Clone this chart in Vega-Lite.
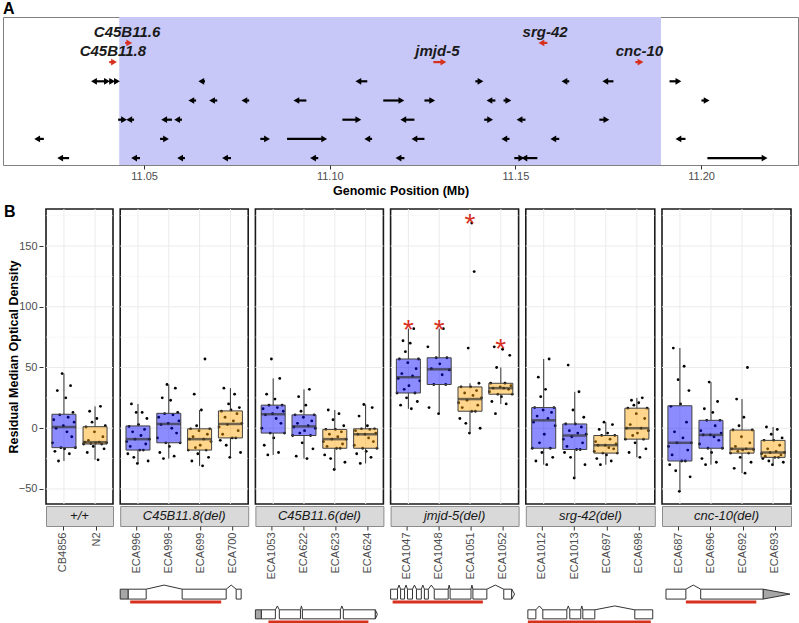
{
"$schema": "https://vega.github.io/schema/vega-lite/v6.json",
"padding": {"left": 2, "top": 0, "right": 0, "bottom": 0},
"background": "white",
"config": {"font": "Liberation Sans", "view": {"stroke": null}, "axis": {"labelFont": "Liberation Sans", "titleFont": "Liberation Sans"}, "title": {"font": "Liberation Sans"}, "text": {"font": "Liberation Sans"}},
"columns": 1,
"spacing": 6,
"resolve": {"scale": {"color": "independent", "x": "independent", "y": "independent"}},
"datasets": {
"genes": [
{"a":11.0449,"b":11.0460,"row":7,"dir":"+","hl":"y"},{"a":11.1570,"b":11.1586,"row":7,"dir":"-","hl":"y"},
{"a":11.0406,"b":11.0419,"row":6,"dir":"+","hl":"y"},{"a":11.1279,"b":11.1306,"row":6,"dir":"+","hl":"y"},{"a":11.1823,"b":11.1837,"row":6,"dir":"+","hl":"y"},
{"a":11.0365,"b":11.0384,"row":5,"dir":"-","hl":"n"},{"a":11.0384,"b":11.0400,"row":5,"dir":"+","hl":"n"},{"a":11.0406,"b":11.0414,"row":5,"dir":"+","hl":"n"},{"a":11.0419,"b":11.0427,"row":5,"dir":"+","hl":"n"},{"a":11.0654,"b":11.0664,"row":5,"dir":"-","hl":"n"},{"a":11.1077,"b":11.1101,"row":5,"dir":"-","hl":"n"},{"a":11.1392,"b":11.1406,"row":5,"dir":"+","hl":"n"},{"a":11.1632,"b":11.1645,"row":5,"dir":"-","hl":"n"},{"a":11.1742,"b":11.1764,"row":5,"dir":"-","hl":"n"},{"a":11.1915,"b":11.1939,"row":5,"dir":"+","hl":"n"},
{"a":11.0627,"b":11.0640,"row":4,"dir":"-","hl":"n"},{"a":11.0683,"b":11.0697,"row":4,"dir":"-","hl":"n"},{"a":11.0770,"b":11.0783,"row":4,"dir":"-","hl":"n"},{"a":11.0910,"b":11.0937,"row":4,"dir":"-","hl":"n"},{"a":11.1144,"b":11.1193,"row":4,"dir":"+","hl":"n"},{"a":11.1255,"b":11.1276,"row":4,"dir":"+","hl":"n"},{"a":11.1430,"b":11.1446,"row":4,"dir":"-","hl":"n"},{"a":11.1468,"b":11.1481,"row":4,"dir":"+","hl":"n"},{"a":11.2001,"b":11.2015,"row":4,"dir":"+","hl":"n"},
{"a":11.0430,"b":11.0446,"row":3,"dir":"+","hl":"n"},{"a":11.0460,"b":11.0473,"row":3,"dir":"-","hl":"n"},{"a":11.0554,"b":11.0575,"row":3,"dir":"-","hl":"n"},{"a":11.0589,"b":11.0602,"row":3,"dir":"-","hl":"n"},{"a":11.1034,"b":11.1077,"row":3,"dir":"+","hl":"n"},{"a":11.1198,"b":11.1228,"row":3,"dir":"-","hl":"n"},{"a":11.1416,"b":11.1432,"row":3,"dir":"+","hl":"n"},{"a":11.1511,"b":11.1527,"row":3,"dir":"-","hl":"n"},{"a":11.1726,"b":11.1745,"row":3,"dir":"+","hl":"n"},
{"a":11.0212,"b":11.0230,"row":2,"dir":"-","hl":"n"},{"a":11.0543,"b":11.0559,"row":2,"dir":"+","hl":"n"},{"a":11.0813,"b":11.0831,"row":2,"dir":"+","hl":"n"},{"a":11.0885,"b":11.0985,"row":2,"dir":"+","hl":"n"},{"a":11.1101,"b":11.1114,"row":2,"dir":"-","hl":"n"},{"a":11.1228,"b":11.1255,"row":2,"dir":"-","hl":"n"},{"a":11.1470,"b":11.1484,"row":2,"dir":"-","hl":"n"},{"a":11.1602,"b":11.1618,"row":2,"dir":"-","hl":"n"},{"a":11.1939,"b":11.1958,"row":2,"dir":"-","hl":"n"},
{"a":11.0274,"b":11.0298,"row":1,"dir":"-","hl":"n"},{"a":11.0473,"b":11.0489,"row":1,"dir":"-","hl":"n"},{"a":11.0597,"b":11.0610,"row":1,"dir":"-","hl":"n"},{"a":11.0718,"b":11.0734,"row":1,"dir":"-","hl":"n"},{"a":11.0955,"b":11.0969,"row":1,"dir":"-","hl":"n"},{"a":11.1185,"b":11.1201,"row":1,"dir":"-","hl":"n"},{"a":11.1497,"b":11.1516,"row":1,"dir":"+","hl":"n"},{"a":11.1524,"b":11.1559,"row":1,"dir":"-","hl":"n"},{"a":11.2017,"b":11.2171,"row":1,"dir":"+","hl":"n"}
],
"labels": [{"name":"C45B11.6","pos":11.0454,"row":7},{"name":"C45B11.8","pos":11.0416,"row":6},{"name":"jmjd-5","pos":11.1290,"row":6},{"name":"srg-42","pos":11.1580,"row":7},{"name":"cnc-10","pos":11.1834,"row":6}],
"strains": [{"s":"CB4856","bg":"CB4856"},{"s":"N2","bg":"N2"},{"s":"ECA996","bg":"CB4856"},{"s":"ECA998","bg":"CB4856"},{"s":"ECA699","bg":"N2"},{"s":"ECA700","bg":"N2"},{"s":"ECA1053","bg":"CB4856"},{"s":"ECA622","bg":"CB4856"},{"s":"ECA623","bg":"N2"},{"s":"ECA624","bg":"N2"},{"s":"ECA1047","bg":"CB4856"},{"s":"ECA1048","bg":"CB4856"},{"s":"ECA1051","bg":"N2"},{"s":"ECA1052","bg":"N2"},{"s":"ECA1012","bg":"CB4856"},{"s":"ECA1013","bg":"CB4856"},{"s":"ECA697","bg":"N2"},{"s":"ECA698","bg":"N2"},{"s":"ECA687","bg":"CB4856"},{"s":"ECA696","bg":"CB4856"},{"s":"ECA692","bg":"N2"},{"s":"ECA693","bg":"N2"}],
"minor": [{"v": -25}, {"v": 25}, {"v": 75}, {"v": 125}, {"v": 175}],
"major": [{"v": -50}, {"v": 0}, {"v": 50}, {"v": 100}, {"v": 150}],
"pts": [
{"s":"CB4856","v":-27,"r":5},{"s":"CB4856","v":-21,"r":14},{"s":"CB4856","v":-19,"r":2},{"s":"CB4856","v":-17,"r":10},{"s":"CB4856","v":-16,"r":19},{"s":"CB4856","v":-16,"r":7},{"s":"CB4856","v":-12,"r":0},{"s":"CB4856","v":-7,"r":16},{"s":"CB4856","v":-3,"r":12},{"s":"CB4856","v":0,"r":3},{"s":"CB4856","v":2,"r":9},{"s":"CB4856","v":5,"r":18},{"s":"CB4856","v":7,"r":1},{"s":"CB4856","v":9,"r":13},{"s":"CB4856","v":11,"r":6},{"s":"CB4856","v":13,"r":17},{"s":"CB4856","v":25,"r":11},{"s":"CB4856","v":31,"r":4},{"s":"CB4856","v":35,"r":15},{"s":"CB4856","v":45,"r":8},
{"s":"N2","v":-26,"r":12},{"s":"N2","v":-20,"r":3},{"s":"N2","v":-17,"r":17},{"s":"N2","v":-15,"r":8},{"s":"N2","v":-13,"r":0},{"s":"N2","v":-13,"r":15},{"s":"N2","v":-12.5,"r":6},{"s":"N2","v":-12,"r":10},{"s":"N2","v":-12,"r":19},{"s":"N2","v":-11.5,"r":1},{"s":"N2","v":-11.5,"r":13},{"s":"N2","v":-10,"r":4},{"s":"N2","v":-7,"r":16},{"s":"N2","v":-3,"r":9},{"s":"N2","v":1,"r":2},{"s":"N2","v":2,"r":18},{"s":"N2","v":5,"r":7},{"s":"N2","v":8,"r":11},{"s":"N2","v":14,"r":5},{"s":"N2","v":18,"r":14},
{"s":"ECA996","v":-29,"r":9},{"s":"ECA996","v":-27,"r":18},{"s":"ECA996","v":-24,"r":6},{"s":"ECA996","v":-21,"r":1},{"s":"ECA996","v":-18,"r":14},{"s":"ECA996","v":-18,"r":11},{"s":"ECA996","v":-15,"r":3},{"s":"ECA996","v":-13,"r":16},{"s":"ECA996","v":-11,"r":0},{"s":"ECA996","v":-9,"r":7},{"s":"ECA996","v":-9,"r":19},{"s":"ECA996","v":-6,"r":12},{"s":"ECA996","v":-3,"r":5},{"s":"ECA996","v":-1,"r":15},{"s":"ECA996","v":1.5,"r":2},{"s":"ECA996","v":3,"r":10},{"s":"ECA996","v":8,"r":17},{"s":"ECA996","v":13,"r":8},{"s":"ECA996","v":13,"r":13},{"s":"ECA996","v":20,"r":4},
{"s":"ECA998","v":-25,"r":5},{"s":"ECA998","v":-23,"r":14},{"s":"ECA998","v":-20,"r":2},{"s":"ECA998","v":-15,"r":10},{"s":"ECA998","v":-12,"r":19},{"s":"ECA998","v":-12,"r":7},{"s":"ECA998","v":-8,"r":0},{"s":"ECA998","v":-4,"r":16},{"s":"ECA998","v":0,"r":12},{"s":"ECA998","v":3,"r":3},{"s":"ECA998","v":4,"r":9},{"s":"ECA998","v":6,"r":18},{"s":"ECA998","v":9,"r":1},{"s":"ECA998","v":11,"r":13},{"s":"ECA998","v":12,"r":6},{"s":"ECA998","v":13,"r":17},{"s":"ECA998","v":23,"r":11},{"s":"ECA998","v":25,"r":4},{"s":"ECA998","v":33,"r":15},{"s":"ECA998","v":36,"r":8},
{"s":"ECA699","v":-31,"r":12},{"s":"ECA699","v":-27,"r":3},{"s":"ECA699","v":-24,"r":17},{"s":"ECA699","v":-21,"r":8},{"s":"ECA699","v":-18,"r":0},{"s":"ECA699","v":-18,"r":15},{"s":"ECA699","v":-16,"r":6},{"s":"ECA699","v":-14,"r":10},{"s":"ECA699","v":-11,"r":19},{"s":"ECA699","v":-9,"r":1},{"s":"ECA699","v":-9,"r":13},{"s":"ECA699","v":-7,"r":4},{"s":"ECA699","v":-5,"r":16},{"s":"ECA699","v":-2,"r":9},{"s":"ECA699","v":-0.5,"r":2},{"s":"ECA699","v":-0.5,"r":18},{"s":"ECA699","v":2,"r":7},{"s":"ECA699","v":15,"r":11},{"s":"ECA699","v":28,"r":5},{"s":"ECA699","v":57,"r":14},
{"s":"ECA700","v":-24,"r":9},{"s":"ECA700","v":-20,"r":18},{"s":"ECA700","v":-14,"r":6},{"s":"ECA700","v":-10,"r":1},{"s":"ECA700","v":-8,"r":14},{"s":"ECA700","v":-8,"r":11},{"s":"ECA700","v":-5,"r":3},{"s":"ECA700","v":-2,"r":16},{"s":"ECA700","v":1,"r":0},{"s":"ECA700","v":3,"r":7},{"s":"ECA700","v":4,"r":19},{"s":"ECA700","v":6,"r":12},{"s":"ECA700","v":9,"r":5},{"s":"ECA700","v":12,"r":15},{"s":"ECA700","v":14,"r":2},{"s":"ECA700","v":15,"r":10},{"s":"ECA700","v":17,"r":17},{"s":"ECA700","v":20,"r":8},{"s":"ECA700","v":28,"r":13},{"s":"ECA700","v":33,"r":4},
{"s":"ECA1053","v":-22,"r":5},{"s":"ECA1053","v":-20,"r":14},{"s":"ECA1053","v":-14,"r":2},{"s":"ECA1053","v":-8,"r":10},{"s":"ECA1053","v":-4,"r":19},{"s":"ECA1053","v":-4,"r":7},{"s":"ECA1053","v":0,"r":0},{"s":"ECA1053","v":4,"r":16},{"s":"ECA1053","v":8,"r":12},{"s":"ECA1053","v":11,"r":3},{"s":"ECA1053","v":12,"r":9},{"s":"ECA1053","v":14,"r":18},{"s":"ECA1053","v":16,"r":1},{"s":"ECA1053","v":17,"r":13},{"s":"ECA1053","v":19,"r":6},{"s":"ECA1053","v":19,"r":17},{"s":"ECA1053","v":24,"r":11},{"s":"ECA1053","v":28,"r":4},{"s":"ECA1053","v":41,"r":15},{"s":"ECA1053","v":57,"r":8},
{"s":"ECA622","v":-25,"r":12},{"s":"ECA622","v":-23,"r":3},{"s":"ECA622","v":-17,"r":17},{"s":"ECA622","v":-12,"r":8},{"s":"ECA622","v":-6,"r":0},{"s":"ECA622","v":-6,"r":15},{"s":"ECA622","v":-4,"r":6},{"s":"ECA622","v":-2,"r":10},{"s":"ECA622","v":0,"r":19},{"s":"ECA622","v":1,"r":1},{"s":"ECA622","v":2,"r":13},{"s":"ECA622","v":4,"r":4},{"s":"ECA622","v":6,"r":16},{"s":"ECA622","v":9,"r":9},{"s":"ECA622","v":11,"r":2},{"s":"ECA622","v":11,"r":18},{"s":"ECA622","v":14,"r":7},{"s":"ECA622","v":19,"r":11},{"s":"ECA622","v":26,"r":5},{"s":"ECA622","v":32,"r":14},
{"s":"ECA623","v":-34,"r":9},{"s":"ECA623","v":-28,"r":18},{"s":"ECA623","v":-25,"r":6},{"s":"ECA623","v":-22,"r":1},{"s":"ECA623","v":-16.5,"r":14},{"s":"ECA623","v":-16.5,"r":11},{"s":"ECA623","v":-15,"r":3},{"s":"ECA623","v":-13,"r":16},{"s":"ECA623","v":-11,"r":0},{"s":"ECA623","v":-9,"r":7},{"s":"ECA623","v":-9,"r":19},{"s":"ECA623","v":-7,"r":12},{"s":"ECA623","v":-5,"r":5},{"s":"ECA623","v":-3,"r":15},{"s":"ECA623","v":-1,"r":2},{"s":"ECA623","v":-1,"r":10},{"s":"ECA623","v":2,"r":17},{"s":"ECA623","v":7,"r":8},{"s":"ECA623","v":12,"r":13},{"s":"ECA623","v":15,"r":4},
{"s":"ECA624","v":-29,"r":5},{"s":"ECA624","v":-24,"r":14},{"s":"ECA624","v":-21,"r":2},{"s":"ECA624","v":-19,"r":10},{"s":"ECA624","v":-16.5,"r":19},{"s":"ECA624","v":-16.5,"r":7},{"s":"ECA624","v":-14,"r":0},{"s":"ECA624","v":-11,"r":16},{"s":"ECA624","v":-8,"r":12},{"s":"ECA624","v":-5,"r":3},{"s":"ECA624","v":-5,"r":9},{"s":"ECA624","v":-4,"r":18},{"s":"ECA624","v":-2,"r":1},{"s":"ECA624","v":-1,"r":13},{"s":"ECA624","v":-0.5,"r":6},{"s":"ECA624","v":-0.5,"r":17},{"s":"ECA624","v":2,"r":11},{"s":"ECA624","v":10,"r":4},{"s":"ECA624","v":17,"r":15},{"s":"ECA624","v":19.5,"r":8},
{"s":"ECA1047","v":16,"r":12},{"s":"ECA1047","v":19,"r":3},{"s":"ECA1047","v":22,"r":17},{"s":"ECA1047","v":25,"r":8},{"s":"ECA1047","v":29,"r":0},{"s":"ECA1047","v":29,"r":15},{"s":"ECA1047","v":32,"r":6},{"s":"ECA1047","v":35,"r":10},{"s":"ECA1047","v":39,"r":19},{"s":"ECA1047","v":41,"r":1},{"s":"ECA1047","v":43,"r":13},{"s":"ECA1047","v":45,"r":4},{"s":"ECA1047","v":49,"r":16},{"s":"ECA1047","v":54,"r":9},{"s":"ECA1047","v":57,"r":2},{"s":"ECA1047","v":57,"r":18},{"s":"ECA1047","v":63,"r":7},{"s":"ECA1047","v":70,"r":11},{"s":"ECA1047","v":72,"r":5},{"s":"ECA1047","v":82,"r":14},
{"s":"ECA1048","v":12,"r":9},{"s":"ECA1048","v":17,"r":1},{"s":"ECA1048","v":36,"r":15},{"s":"ECA1048","v":36,"r":5},{"s":"ECA1048","v":44,"r":12},{"s":"ECA1048","v":48,"r":18},{"s":"ECA1048","v":49,"r":3},{"s":"ECA1048","v":53,"r":10},{"s":"ECA1048","v":58,"r":16},{"s":"ECA1048","v":58,"r":7},{"s":"ECA1048","v":67,"r":0},{"s":"ECA1048","v":82,"r":13},
{"s":"ECA1051","v":-4,"r":9},{"s":"ECA1051","v":0,"r":18},{"s":"ECA1051","v":4,"r":6},{"s":"ECA1051","v":8,"r":1},{"s":"ECA1051","v":14,"r":14},{"s":"ECA1051","v":14,"r":11},{"s":"ECA1051","v":17,"r":3},{"s":"ECA1051","v":19,"r":16},{"s":"ECA1051","v":21,"r":0},{"s":"ECA1051","v":23,"r":7},{"s":"ECA1051","v":25,"r":19},{"s":"ECA1051","v":27,"r":12},{"s":"ECA1051","v":29,"r":5},{"s":"ECA1051","v":31,"r":15},{"s":"ECA1051","v":34,"r":2},{"s":"ECA1051","v":34,"r":10},{"s":"ECA1051","v":37,"r":17},{"s":"ECA1051","v":66,"r":8},{"s":"ECA1051","v":129,"r":13},{"s":"ECA1051","v":169,"r":11},
{"s":"ECA1052","v":12,"r":5},{"s":"ECA1052","v":20,"r":14},{"s":"ECA1052","v":22,"r":2},{"s":"ECA1052","v":26,"r":10},{"s":"ECA1052","v":28,"r":19},{"s":"ECA1052","v":28,"r":7},{"s":"ECA1052","v":30,"r":0},{"s":"ECA1052","v":32,"r":16},{"s":"ECA1052","v":33,"r":12},{"s":"ECA1052","v":33,"r":3},{"s":"ECA1052","v":34,"r":9},{"s":"ECA1052","v":35,"r":18},{"s":"ECA1052","v":37,"r":1},{"s":"ECA1052","v":37,"r":13},{"s":"ECA1052","v":50,"r":6},{"s":"ECA1052","v":60,"r":17},{"s":"ECA1052","v":65,"r":11},{"s":"ECA1052","v":67,"r":4},
{"s":"ECA1012","v":-30,"r":12},{"s":"ECA1012","v":-27,"r":3},{"s":"ECA1012","v":-24,"r":17},{"s":"ECA1012","v":-20,"r":8},{"s":"ECA1012","v":-16.5,"r":0},{"s":"ECA1012","v":-16.5,"r":15},{"s":"ECA1012","v":-12,"r":6},{"s":"ECA1012","v":-5,"r":10},{"s":"ECA1012","v":2,"r":19},{"s":"ECA1012","v":5,"r":1},{"s":"ECA1012","v":8,"r":13},{"s":"ECA1012","v":10,"r":4},{"s":"ECA1012","v":13,"r":16},{"s":"ECA1012","v":15,"r":9},{"s":"ECA1012","v":17,"r":2},{"s":"ECA1012","v":17,"r":18},{"s":"ECA1012","v":26,"r":7},{"s":"ECA1012","v":32,"r":11},{"s":"ECA1012","v":42,"r":5},{"s":"ECA1012","v":57,"r":14},
{"s":"ECA1013","v":-41,"r":9},{"s":"ECA1013","v":-30,"r":18},{"s":"ECA1013","v":-24,"r":6},{"s":"ECA1013","v":-20,"r":1},{"s":"ECA1013","v":-17.5,"r":14},{"s":"ECA1013","v":-17.5,"r":11},{"s":"ECA1013","v":-15,"r":3},{"s":"ECA1013","v":-12,"r":16},{"s":"ECA1013","v":-9,"r":0},{"s":"ECA1013","v":-7,"r":7},{"s":"ECA1013","v":-5,"r":19},{"s":"ECA1013","v":-4,"r":12},{"s":"ECA1013","v":-2,"r":5},{"s":"ECA1013","v":1,"r":15},{"s":"ECA1013","v":3.5,"r":2},{"s":"ECA1013","v":3.5,"r":10},{"s":"ECA1013","v":9,"r":17},{"s":"ECA1013","v":15,"r":8},{"s":"ECA1013","v":30,"r":13},{"s":"ECA1013","v":52,"r":4},
{"s":"ECA697","v":-30,"r":5},{"s":"ECA697","v":-27,"r":14},{"s":"ECA697","v":-25,"r":2},{"s":"ECA697","v":-22,"r":10},{"s":"ECA697","v":-20.5,"r":19},{"s":"ECA697","v":-20.5,"r":7},{"s":"ECA697","v":-19,"r":0},{"s":"ECA697","v":-17,"r":16},{"s":"ECA697","v":-16,"r":12},{"s":"ECA697","v":-14,"r":3},{"s":"ECA697","v":-14,"r":9},{"s":"ECA697","v":-13,"r":18},{"s":"ECA697","v":-11,"r":1},{"s":"ECA697","v":-9,"r":13},{"s":"ECA697","v":-6,"r":6},{"s":"ECA697","v":-6,"r":17},{"s":"ECA697","v":-4,"r":11},{"s":"ECA697","v":-1,"r":4},{"s":"ECA697","v":3,"r":15},{"s":"ECA697","v":5,"r":8},
{"s":"ECA698","v":-24,"r":12},{"s":"ECA698","v":-20,"r":3},{"s":"ECA698","v":-17,"r":17},{"s":"ECA698","v":-12,"r":8},{"s":"ECA698","v":-9,"r":0},{"s":"ECA698","v":-9,"r":15},{"s":"ECA698","v":-6,"r":6},{"s":"ECA698","v":-4,"r":10},{"s":"ECA698","v":-2,"r":19},{"s":"ECA698","v":0,"r":1},{"s":"ECA698","v":0,"r":13},{"s":"ECA698","v":3,"r":4},{"s":"ECA698","v":8,"r":16},{"s":"ECA698","v":12,"r":9},{"s":"ECA698","v":16.5,"r":2},{"s":"ECA698","v":16.5,"r":18},{"s":"ECA698","v":19,"r":7},{"s":"ECA698","v":21,"r":11},{"s":"ECA698","v":23,"r":5},{"s":"ECA698","v":25,"r":14},
{"s":"ECA687","v":-52,"r":9},{"s":"ECA687","v":-40,"r":18},{"s":"ECA687","v":-35,"r":6},{"s":"ECA687","v":-30,"r":1},{"s":"ECA687","v":-27,"r":14},{"s":"ECA687","v":-27,"r":11},{"s":"ECA687","v":-22,"r":3},{"s":"ECA687","v":-18,"r":16},{"s":"ECA687","v":-15,"r":0},{"s":"ECA687","v":-12,"r":7},{"s":"ECA687","v":-12,"r":19},{"s":"ECA687","v":-8,"r":12},{"s":"ECA687","v":-3,"r":5},{"s":"ECA687","v":5,"r":15},{"s":"ECA687","v":18,"r":2},{"s":"ECA687","v":20,"r":10},{"s":"ECA687","v":31,"r":17},{"s":"ECA687","v":40,"r":8},{"s":"ECA687","v":51,"r":13},{"s":"ECA687","v":66,"r":4},
{"s":"ECA696","v":-30,"r":5},{"s":"ECA696","v":-28,"r":14},{"s":"ECA696","v":-25,"r":2},{"s":"ECA696","v":-20,"r":10},{"s":"ECA696","v":-16.5,"r":19},{"s":"ECA696","v":-16.5,"r":7},{"s":"ECA696","v":-13,"r":0},{"s":"ECA696","v":-10,"r":16},{"s":"ECA696","v":-7,"r":12},{"s":"ECA696","v":-5.5,"r":3},{"s":"ECA696","v":-5.5,"r":9},{"s":"ECA696","v":-4,"r":18},{"s":"ECA696","v":-2,"r":1},{"s":"ECA696","v":2,"r":13},{"s":"ECA696","v":6.5,"r":6},{"s":"ECA696","v":6.5,"r":17},{"s":"ECA696","v":13,"r":11},{"s":"ECA696","v":16,"r":4},{"s":"ECA696","v":22,"r":15},{"s":"ECA696","v":38,"r":8},
{"s":"ECA692","v":-37,"r":12},{"s":"ECA692","v":-33,"r":3},{"s":"ECA692","v":-28,"r":17},{"s":"ECA692","v":-24,"r":8},{"s":"ECA692","v":-20.5,"r":0},{"s":"ECA692","v":-20.5,"r":15},{"s":"ECA692","v":-19,"r":6},{"s":"ECA692","v":-18,"r":10},{"s":"ECA692","v":-17.5,"r":19},{"s":"ECA692","v":-17,"r":1},{"s":"ECA692","v":-17,"r":13},{"s":"ECA692","v":-15,"r":4},{"s":"ECA692","v":-12,"r":16},{"s":"ECA692","v":-7,"r":9},{"s":"ECA692","v":-1.5,"r":2},{"s":"ECA692","v":-1.5,"r":18},{"s":"ECA692","v":2,"r":7},{"s":"ECA692","v":9,"r":11},{"s":"ECA692","v":24,"r":5},{"s":"ECA692","v":50,"r":14},
{"s":"ECA693","v":-30,"r":9},{"s":"ECA693","v":-28,"r":18},{"s":"ECA693","v":-27,"r":6},{"s":"ECA693","v":-25,"r":1},{"s":"ECA693","v":-24,"r":14},{"s":"ECA693","v":-24,"r":11},{"s":"ECA693","v":-23,"r":3},{"s":"ECA693","v":-22,"r":16},{"s":"ECA693","v":-21,"r":0},{"s":"ECA693","v":-20,"r":7},{"s":"ECA693","v":-20,"r":19},{"s":"ECA693","v":-19,"r":12},{"s":"ECA693","v":-17,"r":5},{"s":"ECA693","v":-14,"r":15},{"s":"ECA693","v":-10,"r":2},{"s":"ECA693","v":-10,"r":10},{"s":"ECA693","v":-8,"r":17},{"s":"ECA693","v":-5,"r":8},{"s":"ECA693","v":-1,"r":13},{"s":"ECA693","v":1,"r":4}
],
"gex": [
{"g":"C45B11.8","k":"utr","a":0,"b":6.3,"lo":5.8,"hi":8.1},{"g":"C45B11.8","k":"exon","a":6.3,"b":20.3,"lo":5.8,"hi":8.1},{"g":"C45B11.8","k":"exon","a":48.4,"b":82.8,"lo":5.8,"hi":8.1},{"g":"C45B11.8","k":"exon","a":90.6,"b":94.5,"lo":5.8,"hi":8.1},
{"g":"C45B11.6","k":"utr","a":0,"b":4.7,"lo":1.2,"hi":3.3},{"g":"C45B11.6","k":"exon","a":4.7,"b":15.6,"lo":1.2,"hi":3.3},{"g":"C45B11.6","k":"exon","a":18.7,"b":35.2,"lo":1.2,"hi":3.3},{"g":"C45B11.6","k":"exon","a":36.7,"b":66.4,"lo":1.2,"hi":3.3},{"g":"C45B11.6","k":"exon","a":68.7,"b":93.7,"lo":1.2,"hi":3.3},
{"g":"jmjd-5","k":"exon","a":0,"b":5.4,"lo":5.8,"hi":8.1},{"g":"jmjd-5","k":"exon","a":7.8,"b":10.9,"lo":5.8,"hi":8.1},{"g":"jmjd-5","k":"exon","a":13.2,"b":17.1,"lo":5.8,"hi":8.1},{"g":"jmjd-5","k":"exon","a":20.2,"b":24.0,"lo":5.8,"hi":8.1},{"g":"jmjd-5","k":"exon","a":26.4,"b":29.5,"lo":5.8,"hi":8.1},{"g":"jmjd-5","k":"exon","a":34.1,"b":45.0,"lo":5.8,"hi":8.1},{"g":"jmjd-5","k":"exon","a":46.5,"b":62.8,"lo":5.8,"hi":8.1},{"g":"jmjd-5","k":"exon","a":64.3,"b":75.2,"lo":5.8,"hi":8.1},{"g":"jmjd-5","k":"exon","a":88.4,"b":94.6,"lo":5.8,"hi":8.1},
{"g":"srg-42","k":"exon","a":1.6,"b":7.8,"lo":1.2,"hi":3.3},{"g":"srg-42","k":"exon","a":13.2,"b":31.8,"lo":1.2,"hi":3.3},{"g":"srg-42","k":"exon","a":34.1,"b":42.6,"lo":1.2,"hi":3.3},{"g":"srg-42","k":"exon","a":44.2,"b":53.5,"lo":1.2,"hi":3.3},{"g":"srg-42","k":"exon","a":84.5,"b":98.4,"lo":1.2,"hi":3.3},
{"g":"cnc-10","k":"exon","a":3.1,"b":18.5,"lo":5.8,"hi":8.1},{"g":"cnc-10","k":"exon","a":30.0,"b":78.5,"lo":5.8,"hi":8.1}
],
"gint": [
{"g":"C45B11.8","i":1,"x":20.3,"y":8.1},{"g":"C45B11.8","i":1,"x":34.35,"y":9.05},{"g":"C45B11.8","i":1,"x":48.4,"y":8.1},
{"g":"C45B11.8","i":2,"x":82.8,"y":8.1},{"g":"C45B11.8","i":2,"x":86.7,"y":9.05},{"g":"C45B11.8","i":2,"x":90.6,"y":8.1},
{"g":"C45B11.6","i":1,"x":15.6,"y":3.3},{"g":"C45B11.6","i":1,"x":17.15,"y":4.2},{"g":"C45B11.6","i":1,"x":18.7,"y":3.3},
{"g":"C45B11.6","i":2,"x":35.2,"y":3.3},{"g":"C45B11.6","i":2,"x":35.95,"y":4.2},{"g":"C45B11.6","i":2,"x":36.7,"y":3.3},
{"g":"C45B11.6","i":3,"x":66.4,"y":3.3},{"g":"C45B11.6","i":3,"x":67.55,"y":4.2},{"g":"C45B11.6","i":3,"x":68.7,"y":3.3},
{"g":"jmjd-5","i":1,"x":5.4,"y":8.1},{"g":"jmjd-5","i":1,"x":6.6,"y":9.05},{"g":"jmjd-5","i":1,"x":7.8,"y":8.1},
{"g":"jmjd-5","i":2,"x":10.9,"y":8.1},{"g":"jmjd-5","i":2,"x":12.05,"y":9.05},{"g":"jmjd-5","i":2,"x":13.2,"y":8.1},
{"g":"jmjd-5","i":3,"x":17.1,"y":8.1},{"g":"jmjd-5","i":3,"x":18.65,"y":9.05},{"g":"jmjd-5","i":3,"x":20.2,"y":8.1},
{"g":"jmjd-5","i":4,"x":24.0,"y":8.1},{"g":"jmjd-5","i":4,"x":25.2,"y":9.05},{"g":"jmjd-5","i":4,"x":26.4,"y":8.1},
{"g":"jmjd-5","i":5,"x":29.5,"y":8.1},{"g":"jmjd-5","i":5,"x":31.8,"y":9.05},{"g":"jmjd-5","i":5,"x":34.1,"y":8.1},
{"g":"jmjd-5","i":6,"x":45.0,"y":8.1},{"g":"jmjd-5","i":6,"x":45.75,"y":9.05},{"g":"jmjd-5","i":6,"x":46.5,"y":8.1},
{"g":"jmjd-5","i":7,"x":62.8,"y":8.1},{"g":"jmjd-5","i":7,"x":63.55,"y":9.05},{"g":"jmjd-5","i":7,"x":64.3,"y":8.1},
{"g":"jmjd-5","i":8,"x":75.2,"y":8.1},{"g":"jmjd-5","i":8,"x":81.8,"y":9.05},{"g":"jmjd-5","i":8,"x":88.4,"y":8.1},
{"g":"srg-42","i":1,"x":7.8,"y":3.3},{"g":"srg-42","i":1,"x":10.5,"y":4.2},{"g":"srg-42","i":1,"x":13.2,"y":3.3},
{"g":"srg-42","i":2,"x":31.8,"y":3.3},{"g":"srg-42","i":2,"x":32.95,"y":4.2},{"g":"srg-42","i":2,"x":34.1,"y":3.3},
{"g":"srg-42","i":3,"x":42.6,"y":3.3},{"g":"srg-42","i":3,"x":43.4,"y":4.2},{"g":"srg-42","i":3,"x":44.2,"y":3.3},
{"g":"srg-42","i":4,"x":53.5,"y":3.3},{"g":"srg-42","i":4,"x":69.0,"y":4.2},{"g":"srg-42","i":4,"x":84.5,"y":3.3},
{"g":"cnc-10","i":1,"x":18.5,"y":8.1},{"g":"cnc-10","i":1,"x":24.25,"y":9.05},{"g":"cnc-10","i":1,"x":30.0,"y":8.1}
],
"gdel": [{"g":"C45B11.8","a":7.8,"b":78.9,"y":5.1},{"g":"C45B11.6","a":10.2,"b":88.3,"y":0.47},{"g":"jmjd-5","a":1.6,"b":72.1,"y":5.1},{"g":"srg-42","a":1.6,"b":96.9,"y":0.47},{"g":"cnc-10","a":18.5,"b":73.1,"y":5.1}],
"gtip": [
{"g":"C45B11.6","t":"c6","k":"exon","x":93.7,"lo":1.2,"hi":3.3},{"g":"C45B11.6","t":"c6","k":"exon","x":95.3,"lo":2.25,"hi":2.25},
{"g":"jmjd-5","t":"j5","k":"exon","x":94.6,"lo":5.8,"hi":8.1},{"g":"jmjd-5","t":"j5","k":"exon","x":96.9,"lo":6.95,"hi":6.95},
{"g":"cnc-10","t":"c10","k":"utr","x":78.5,"lo":5.8,"hi":8.1},{"g":"cnc-10","t":"c10","k":"utr","x":99.2,"lo":6.95,"hi":6.95}
]
},
"concat": [
{
"title": {"text": "A", "anchor": "start", "frame": "bounds", "fontSize": 16, "fontWeight": "bold", "offset": 0, "color": "black"},
"width": 795, "height": 148,
"view": {"stroke": "#808080", "strokeWidth": 1},
"layer": [
{"data": {"values": [{"a": 11.0433, "b": 11.1892}]}, "mark": {"type": "rect", "color": "#c8c8f8"},
 "encoding": {"x": {"field": "a", "type": "quantitative", "scale": {"domain": [11.012, 11.2261], "nice": false, "zero": false},
   "axis": {"values": [11.05, 11.1, 11.15, 11.2], "format": ".2f", "title": "Genomic Position (Mb)", "grid": false, "domain": false, "tickColor": "#333333", "tickSize": 4, "labelColor": "#4d4d4d", "labelFontSize": 11, "labelPadding": 1, "titleFontSize": 12.5, "titleFontWeight": "bold", "titleColor": "black", "titlePadding": 3}},
  "x2": {"field": "b"}}},
{"data": {"name": "genes"}, "mark": {"type": "rule", "strokeWidth": 2.2},
 "encoding": {"x": {"field": "a", "type": "quantitative"}, "x2": {"field": "b"},
  "y": {"field": "row", "type": "quantitative", "scale": {"domain": [0.64, 8.35], "nice": false, "zero": false}, "axis": null},
  "color": {"field": "hl", "type": "nominal", "scale": {"domain": ["n", "y"], "range": ["black", "#d7301f"]}, "legend": null}}},
{"data": {"name": "genes"}, "transform": [{"filter": {"field": "dir", "equal": "+"}}], "mark": {"type": "point", "shape": "triangle-right", "filled": true, "size": 45, "opacity": 1},
 "encoding": {"x": {"field": "b", "type": "quantitative"}, "y": {"field": "row", "type": "quantitative"}, "color": {"field": "hl", "type": "nominal", "legend": null}}},
{"data": {"name": "genes"}, "transform": [{"filter": {"field": "dir", "equal": "-"}}], "mark": {"type": "point", "shape": "triangle-left", "filled": true, "size": 45, "opacity": 1},
 "encoding": {"x": {"field": "a", "type": "quantitative"}, "y": {"field": "row", "type": "quantitative"}, "color": {"field": "hl", "type": "nominal", "legend": null}}},
{"data": {"name": "labels"}, "mark": {"type": "text", "fontSize": 15, "fontStyle": "italic", "fontWeight": "bold", "dy": -11, "color": "#1a1a1a"},
 "encoding": {"x": {"field": "pos", "type": "quantitative"}, "y": {"field": "row", "type": "quantitative"}, "text": {"field": "name"}}}
]
},
{
"title": {"text": "B", "anchor": "start", "frame": "group", "fontSize": 16, "fontWeight": "bold", "dx": 1, "dy": 12, "offset": 0, "color": "black"},
"spacing": 3.2,
"resolve": {"scale": {"x": "independent", "y": "independent", "xOffset": "independent"}},
"hconcat": [
{"spacing": 0, "resolve": {"scale": {"y": "independent", "x": "independent"}}, "hconcat": [
 {"width": 40, "height": 295, "view": {"fill": "white", "stroke": null}, "data": {"values": [{"v": 0}]}, "mark": {"type": "point", "opacity": 0},
  "encoding": {"y": {"field": "v", "type": "quantitative", "scale": {"domain": [-62.4, 180.5], "nice": false, "zero": false},
    "axis": {"orient": "left", "offset": -40, "values": [-50, 0, 50, 100, 150], "title": "Residual Median Optical Density", "titleFontSize": 12.5, "titleFontWeight": "bold", "titleColor": "black", "titleX": -23, "titleY": 147.5, "titleAngle": -90, "titleBaseline": "bottom", "titleAlign": "center", "labelFontSize": 11, "labelColor": "#4d4d4d", "labelPadding": 2, "tickColor": "#333333", "tickSize": 4, "domain": false, "grid": false, "minExtent": 0}}}},
 {"spacing": 2, "bounds": "flush", "vconcat": [
 {"width": 67, "height": 295, "view": {"stroke": "#1a1a1a", "strokeWidth": 1.6},
  "layer": [
   {"data": {"name": "minor"}, "mark": {"type": "rule", "color": "#f2f2f2", "strokeWidth": 0.6}, "encoding": {"y": {"field": "v", "type": "quantitative", "scale": {"domain": [-62.4, 180.5], "nice": false, "zero": false}, "axis": null}}},
   {"data": {"name": "major"}, "mark": {"type": "rule", "color": "#ebebeb", "strokeWidth": 1}, "encoding": {"y": {"field": "v", "type": "quantitative", "axis": null}}},
   {"data": {"values": [{"s": "CB4856"}, {"s": "N2"}]}, "mark": {"type": "rule", "color": "#ebebeb", "strokeWidth": 1}, "encoding": {"x": {"field": "s", "type": "nominal", "scale": {"domain": ["CB4856", "N2"], "paddingInner": 0.226, "paddingOuter": 0.19}, "axis": null}}},
   {"data": {"name": "pts"}, "transform": [{"filter": {"field": "s", "oneOf": ["CB4856", "N2"]}}], "mark": {"type": "point", "filled": true, "size": 8, "color": "black", "opacity": 1},
    "encoding": {"x": {"field": "s", "type": "nominal", "axis": null}, "y": {"field": "v", "type": "quantitative", "axis": null},
     "xOffset": {"field": "r", "type": "ordinal", "scale": {"domain": [0,1,2,3,4,5,6,7,8,9,10,11,12,13,14,15,16,17,18,19]}}}},
   {"data": {"name": "pts"}, "transform": [{"filter": {"field": "s", "oneOf": ["CB4856", "N2"]}}, {"lookup": "s", "from": {"data": {"name": "strains"}, "key": "s", "fields": ["bg"]}}],
    "mark": {"type": "boxplot", "extent": 1.5, "outliers": false, "size": 24, "box": {"fillOpacity": 0.45, "stroke": "#404040", "strokeWidth": 1}, "median": {"color": "#333333", "thickness": 2.5}, "rule": {"color": "#333333", "strokeWidth": 1}},
    "encoding": {"x": {"field": "s", "type": "nominal", "axis": null}, "y": {"field": "v", "type": "quantitative", "axis": null},
     "color": {"field": "bg", "type": "nominal", "scale": {"domain": ["CB4856", "N2"], "range": ["#0000ff", "#ffa500"]}, "legend": null}}}
  ]},
 {"width": 67, "height": 20, "view": {"fill": "#d9d9d9", "stroke": "#8c8c8c", "strokeWidth": 1},
  "layer": [
   {"data": {"values": [{"s": "CB4856"}, {"s": "N2"}]}, "mark": {"type": "point", "opacity": 0},
    "encoding": {"x": {"field": "s", "type": "nominal", "scale": {"domain": ["CB4856", "N2"], "paddingInner": 0.226, "paddingOuter": 0.19}, "axis": {"orient": "bottom", "title": null, "labelAngle": -90, "labelFontSize": 11, "labelColor": "#4d4d4d", "tickColor": "#333333", "tickSize": 4, "domain": false, "grid": false, "labelPadding": 2, "bandPosition": 0.5}}}},
   {"data": {"values": [{"t": "+/+"}]}, "mark": {"type": "text", "fontSize": 13, "fontStyle": "italic", "color": "#1a1a1a"}, "encoding": {"text": {"field": "t"}}}
  ]}
 ]}
]},
{"spacing": 2, "bounds": "flush", "vconcat": [
 {"width": 128, "height": 295, "view": {"stroke": "#1a1a1a", "strokeWidth": 1.6},
  "layer": [
   {"data": {"name": "minor"}, "mark": {"type": "rule", "color": "#f2f2f2", "strokeWidth": 0.6}, "encoding": {"y": {"field": "v", "type": "quantitative", "scale": {"domain": [-62.4, 180.5], "nice": false, "zero": false}, "axis": null}}},
   {"data": {"name": "major"}, "mark": {"type": "rule", "color": "#ebebeb", "strokeWidth": 1}, "encoding": {"y": {"field": "v", "type": "quantitative", "axis": null}}},
   {"data": {"values": [{"s": "ECA996"}, {"s": "ECA998"}, {"s": "ECA699"}, {"s": "ECA700"}]}, "mark": {"type": "rule", "color": "#ebebeb", "strokeWidth": 1}, "encoding": {"x": {"field": "s", "type": "nominal", "scale": {"domain": ["ECA996", "ECA998", "ECA699", "ECA700"], "paddingInner": 0.226, "paddingOuter": 0.19}, "axis": null}}},
   {"data": {"name": "pts"}, "transform": [{"filter": {"field": "s", "oneOf": ["ECA996", "ECA998", "ECA699", "ECA700"]}}], "mark": {"type": "point", "filled": true, "size": 8, "color": "black", "opacity": 1},
    "encoding": {"x": {"field": "s", "type": "nominal", "axis": null}, "y": {"field": "v", "type": "quantitative", "axis": null},
     "xOffset": {"field": "r", "type": "ordinal", "scale": {"domain": [0,1,2,3,4,5,6,7,8,9,10,11,12,13,14,15,16,17,18,19]}}}},
   {"data": {"name": "pts"}, "transform": [{"filter": {"field": "s", "oneOf": ["ECA996", "ECA998", "ECA699", "ECA700"]}}, {"lookup": "s", "from": {"data": {"name": "strains"}, "key": "s", "fields": ["bg"]}}],
    "mark": {"type": "boxplot", "extent": 1.5, "outliers": false, "size": 24, "box": {"fillOpacity": 0.45, "stroke": "#404040", "strokeWidth": 1}, "median": {"color": "#333333", "thickness": 2.5}, "rule": {"color": "#333333", "strokeWidth": 1}},
    "encoding": {"x": {"field": "s", "type": "nominal", "axis": null}, "y": {"field": "v", "type": "quantitative", "axis": null},
     "color": {"field": "bg", "type": "nominal", "scale": {"domain": ["CB4856", "N2"], "range": ["#0000ff", "#ffa500"]}, "legend": null}}}
  ]},
 {"width": 128, "height": 20, "view": {"fill": "#d9d9d9", "stroke": "#8c8c8c", "strokeWidth": 1},
  "layer": [
   {"data": {"values": [{"s": "ECA996"}, {"s": "ECA998"}, {"s": "ECA699"}, {"s": "ECA700"}]}, "mark": {"type": "point", "opacity": 0},
    "encoding": {"x": {"field": "s", "type": "nominal", "scale": {"domain": ["ECA996", "ECA998", "ECA699", "ECA700"], "paddingInner": 0.226, "paddingOuter": 0.19}, "axis": {"orient": "bottom", "title": null, "labelAngle": -90, "labelFontSize": 11, "labelColor": "#4d4d4d", "tickColor": "#333333", "tickSize": 4, "domain": false, "grid": false, "labelPadding": 2, "bandPosition": 0.5}}}},
   {"data": {"values": [{"t": "C45B11.8(del)"}]}, "mark": {"type": "text", "fontSize": 13, "fontStyle": "italic", "color": "#1a1a1a"}, "encoding": {"text": {"field": "t"}}}
  ]},
 {"width": 128, "height": 96,
  "layer": [
   {"data": {"name": "gdel"}, "transform": [{"filter": {"field": "g", "equal": "C45B11.8"}}], "mark": {"type": "rule", "color": "#d7301f", "strokeWidth": 3},
    "encoding": {"x": {"field": "a", "type": "quantitative", "scale": {"domain": [0, 100], "nice": false, "zero": false}, "axis": null}, "x2": {"field": "b"}, "y": {"field": "y", "type": "quantitative", "scale": {"domain": [0, 22.33], "nice": false, "zero": false}, "axis": null}}},
   {"data": {"name": "gint"}, "transform": [{"filter": {"field": "g", "equal": "C45B11.8"}}], "mark": {"type": "line", "color": "#333333", "strokeWidth": 1},
    "encoding": {"x": {"field": "x", "type": "quantitative"}, "y": {"field": "y", "type": "quantitative"}, "detail": {"field": "i"}}},
   {"data": {"name": "gex"}, "transform": [{"filter": {"field": "g", "equal": "C45B11.8"}}], "mark": {"type": "rect", "stroke": "#333333", "strokeWidth": 1},
    "encoding": {"x": {"field": "a", "type": "quantitative"}, "x2": {"field": "b"}, "y": {"field": "lo", "type": "quantitative"}, "y2": {"field": "hi"}, "fill": {"field": "k", "type": "nominal", "scale": {"domain": ["exon", "utr"], "range": ["white", "#a6a6a6"]}, "legend": null}}}
  ]}
]},
{"spacing": 2, "bounds": "flush", "vconcat": [
 {"width": 128, "height": 295, "view": {"stroke": "#1a1a1a", "strokeWidth": 1.6},
  "layer": [
   {"data": {"name": "minor"}, "mark": {"type": "rule", "color": "#f2f2f2", "strokeWidth": 0.6}, "encoding": {"y": {"field": "v", "type": "quantitative", "scale": {"domain": [-62.4, 180.5], "nice": false, "zero": false}, "axis": null}}},
   {"data": {"name": "major"}, "mark": {"type": "rule", "color": "#ebebeb", "strokeWidth": 1}, "encoding": {"y": {"field": "v", "type": "quantitative", "axis": null}}},
   {"data": {"values": [{"s": "ECA1053"}, {"s": "ECA622"}, {"s": "ECA623"}, {"s": "ECA624"}]}, "mark": {"type": "rule", "color": "#ebebeb", "strokeWidth": 1}, "encoding": {"x": {"field": "s", "type": "nominal", "scale": {"domain": ["ECA1053", "ECA622", "ECA623", "ECA624"], "paddingInner": 0.226, "paddingOuter": 0.19}, "axis": null}}},
   {"data": {"name": "pts"}, "transform": [{"filter": {"field": "s", "oneOf": ["ECA1053", "ECA622", "ECA623", "ECA624"]}}], "mark": {"type": "point", "filled": true, "size": 8, "color": "black", "opacity": 1},
    "encoding": {"x": {"field": "s", "type": "nominal", "axis": null}, "y": {"field": "v", "type": "quantitative", "axis": null},
     "xOffset": {"field": "r", "type": "ordinal", "scale": {"domain": [0,1,2,3,4,5,6,7,8,9,10,11,12,13,14,15,16,17,18,19]}}}},
   {"data": {"name": "pts"}, "transform": [{"filter": {"field": "s", "oneOf": ["ECA1053", "ECA622", "ECA623", "ECA624"]}}, {"lookup": "s", "from": {"data": {"name": "strains"}, "key": "s", "fields": ["bg"]}}],
    "mark": {"type": "boxplot", "extent": 1.5, "outliers": false, "size": 24, "box": {"fillOpacity": 0.45, "stroke": "#404040", "strokeWidth": 1}, "median": {"color": "#333333", "thickness": 2.5}, "rule": {"color": "#333333", "strokeWidth": 1}},
    "encoding": {"x": {"field": "s", "type": "nominal", "axis": null}, "y": {"field": "v", "type": "quantitative", "axis": null},
     "color": {"field": "bg", "type": "nominal", "scale": {"domain": ["CB4856", "N2"], "range": ["#0000ff", "#ffa500"]}, "legend": null}}}
  ]},
 {"width": 128, "height": 20, "view": {"fill": "#d9d9d9", "stroke": "#8c8c8c", "strokeWidth": 1},
  "layer": [
   {"data": {"values": [{"s": "ECA1053"}, {"s": "ECA622"}, {"s": "ECA623"}, {"s": "ECA624"}]}, "mark": {"type": "point", "opacity": 0},
    "encoding": {"x": {"field": "s", "type": "nominal", "scale": {"domain": ["ECA1053", "ECA622", "ECA623", "ECA624"], "paddingInner": 0.226, "paddingOuter": 0.19}, "axis": {"orient": "bottom", "title": null, "labelAngle": -90, "labelFontSize": 11, "labelColor": "#4d4d4d", "tickColor": "#333333", "tickSize": 4, "domain": false, "grid": false, "labelPadding": 2, "bandPosition": 0.5}}}},
   {"data": {"values": [{"t": "C45B11.6(del)"}]}, "mark": {"type": "text", "fontSize": 13, "fontStyle": "italic", "color": "#1a1a1a"}, "encoding": {"text": {"field": "t"}}}
  ]},
 {"width": 128, "height": 96,
  "layer": [
   {"data": {"name": "gdel"}, "transform": [{"filter": {"field": "g", "equal": "C45B11.6"}}], "mark": {"type": "rule", "color": "#d7301f", "strokeWidth": 3},
    "encoding": {"x": {"field": "a", "type": "quantitative", "scale": {"domain": [0, 100], "nice": false, "zero": false}, "axis": null}, "x2": {"field": "b"}, "y": {"field": "y", "type": "quantitative", "scale": {"domain": [0, 22.33], "nice": false, "zero": false}, "axis": null}}},
   {"data": {"name": "gint"}, "transform": [{"filter": {"field": "g", "equal": "C45B11.6"}}], "mark": {"type": "line", "color": "#333333", "strokeWidth": 1},
    "encoding": {"x": {"field": "x", "type": "quantitative"}, "y": {"field": "y", "type": "quantitative"}, "detail": {"field": "i"}}},
   {"data": {"name": "gex"}, "transform": [{"filter": {"field": "g", "equal": "C45B11.6"}}], "mark": {"type": "rect", "stroke": "#333333", "strokeWidth": 1},
    "encoding": {"x": {"field": "a", "type": "quantitative"}, "x2": {"field": "b"}, "y": {"field": "lo", "type": "quantitative"}, "y2": {"field": "hi"}, "fill": {"field": "k", "type": "nominal", "scale": {"domain": ["exon", "utr"], "range": ["white", "#a6a6a6"]}, "legend": null}}},
   {"data": {"name": "gtip"}, "transform": [{"filter": {"field": "g", "equal": "C45B11.6"}}], "mark": {"type": "area", "stroke": "#333333", "strokeWidth": 1},
    "encoding": {"x": {"field": "x", "type": "quantitative"}, "y": {"field": "lo", "type": "quantitative"}, "y2": {"field": "hi"}, "detail": {"field": "t"}, "fill": {"field": "k", "type": "nominal", "legend": null}}}
  ]}
]},
{"spacing": 2, "bounds": "flush", "vconcat": [
 {"width": 128, "height": 295, "view": {"stroke": "#1a1a1a", "strokeWidth": 1.6},
  "layer": [
   {"data": {"name": "minor"}, "mark": {"type": "rule", "color": "#f2f2f2", "strokeWidth": 0.6}, "encoding": {"y": {"field": "v", "type": "quantitative", "scale": {"domain": [-62.4, 180.5], "nice": false, "zero": false}, "axis": null}}},
   {"data": {"name": "major"}, "mark": {"type": "rule", "color": "#ebebeb", "strokeWidth": 1}, "encoding": {"y": {"field": "v", "type": "quantitative", "axis": null}}},
   {"data": {"values": [{"s": "ECA1047"}, {"s": "ECA1048"}, {"s": "ECA1051"}, {"s": "ECA1052"}]}, "mark": {"type": "rule", "color": "#ebebeb", "strokeWidth": 1}, "encoding": {"x": {"field": "s", "type": "nominal", "scale": {"domain": ["ECA1047", "ECA1048", "ECA1051", "ECA1052"], "paddingInner": 0.226, "paddingOuter": 0.19}, "axis": null}}},
   {"data": {"name": "pts"}, "transform": [{"filter": {"field": "s", "oneOf": ["ECA1047", "ECA1048", "ECA1051", "ECA1052"]}}], "mark": {"type": "point", "filled": true, "size": 8, "color": "black", "opacity": 1},
    "encoding": {"x": {"field": "s", "type": "nominal", "axis": null}, "y": {"field": "v", "type": "quantitative", "axis": null},
     "xOffset": {"field": "r", "type": "ordinal", "scale": {"domain": [0,1,2,3,4,5,6,7,8,9,10,11,12,13,14,15,16,17,18,19]}}}},
   {"data": {"name": "pts"}, "transform": [{"filter": {"field": "s", "oneOf": ["ECA1047", "ECA1048", "ECA1051", "ECA1052"]}}, {"lookup": "s", "from": {"data": {"name": "strains"}, "key": "s", "fields": ["bg"]}}],
    "mark": {"type": "boxplot", "extent": 1.5, "outliers": false, "size": 24, "box": {"fillOpacity": 0.45, "stroke": "#404040", "strokeWidth": 1}, "median": {"color": "#333333", "thickness": 2.5}, "rule": {"color": "#333333", "strokeWidth": 1}},
    "encoding": {"x": {"field": "s", "type": "nominal", "axis": null}, "y": {"field": "v", "type": "quantitative", "axis": null},
     "color": {"field": "bg", "type": "nominal", "scale": {"domain": ["CB4856", "N2"], "range": ["#0000ff", "#ffa500"]}, "legend": null}}},
   {"data": {"values": [{"s": "ECA1047", "v": 87}, {"s": "ECA1048", "v": 87}, {"s": "ECA1051", "v": 174}, {"s": "ECA1052", "v": 71}]}, "mark": {"type": "text", "text": "*", "fontSize": 28, "color": "#d7301f", "baseline": "alphabetic", "dy": 16},
    "encoding": {"x": {"field": "s", "type": "nominal", "axis": null}, "y": {"field": "v", "type": "quantitative", "axis": null}}}
  ]},
 {"width": 128, "height": 20, "view": {"fill": "#d9d9d9", "stroke": "#8c8c8c", "strokeWidth": 1},
  "layer": [
   {"data": {"values": [{"s": "ECA1047"}, {"s": "ECA1048"}, {"s": "ECA1051"}, {"s": "ECA1052"}]}, "mark": {"type": "point", "opacity": 0},
    "encoding": {"x": {"field": "s", "type": "nominal", "scale": {"domain": ["ECA1047", "ECA1048", "ECA1051", "ECA1052"], "paddingInner": 0.226, "paddingOuter": 0.19}, "axis": {"orient": "bottom", "title": null, "labelAngle": -90, "labelFontSize": 11, "labelColor": "#4d4d4d", "tickColor": "#333333", "tickSize": 4, "domain": false, "grid": false, "labelPadding": 2, "bandPosition": 0.5}}}},
   {"data": {"values": [{"t": "jmjd-5(del)"}]}, "mark": {"type": "text", "fontSize": 13, "fontStyle": "italic", "color": "#1a1a1a"}, "encoding": {"text": {"field": "t"}}}
  ]},
 {"width": 128, "height": 96,
  "layer": [
   {"data": {"name": "gdel"}, "transform": [{"filter": {"field": "g", "equal": "jmjd-5"}}], "mark": {"type": "rule", "color": "#d7301f", "strokeWidth": 3},
    "encoding": {"x": {"field": "a", "type": "quantitative", "scale": {"domain": [0, 100], "nice": false, "zero": false}, "axis": null}, "x2": {"field": "b"}, "y": {"field": "y", "type": "quantitative", "scale": {"domain": [0, 22.33], "nice": false, "zero": false}, "axis": null}}},
   {"data": {"name": "gint"}, "transform": [{"filter": {"field": "g", "equal": "jmjd-5"}}], "mark": {"type": "line", "color": "#333333", "strokeWidth": 1},
    "encoding": {"x": {"field": "x", "type": "quantitative"}, "y": {"field": "y", "type": "quantitative"}, "detail": {"field": "i"}}},
   {"data": {"name": "gex"}, "transform": [{"filter": {"field": "g", "equal": "jmjd-5"}}], "mark": {"type": "rect", "stroke": "#333333", "strokeWidth": 1},
    "encoding": {"x": {"field": "a", "type": "quantitative"}, "x2": {"field": "b"}, "y": {"field": "lo", "type": "quantitative"}, "y2": {"field": "hi"}, "fill": {"field": "k", "type": "nominal", "scale": {"domain": ["exon", "utr"], "range": ["white", "#a6a6a6"]}, "legend": null}}},
   {"data": {"name": "gtip"}, "transform": [{"filter": {"field": "g", "equal": "jmjd-5"}}], "mark": {"type": "area", "stroke": "#333333", "strokeWidth": 1},
    "encoding": {"x": {"field": "x", "type": "quantitative"}, "y": {"field": "lo", "type": "quantitative"}, "y2": {"field": "hi"}, "detail": {"field": "t"}, "fill": {"field": "k", "type": "nominal", "legend": null}}}
  ]}
]},
{"spacing": 2, "bounds": "flush", "vconcat": [
 {"width": 129, "height": 295, "view": {"stroke": "#1a1a1a", "strokeWidth": 1.6},
  "layer": [
   {"data": {"name": "minor"}, "mark": {"type": "rule", "color": "#f2f2f2", "strokeWidth": 0.6}, "encoding": {"y": {"field": "v", "type": "quantitative", "scale": {"domain": [-62.4, 180.5], "nice": false, "zero": false}, "axis": null}}},
   {"data": {"name": "major"}, "mark": {"type": "rule", "color": "#ebebeb", "strokeWidth": 1}, "encoding": {"y": {"field": "v", "type": "quantitative", "axis": null}}},
   {"data": {"values": [{"s": "ECA1012"}, {"s": "ECA1013"}, {"s": "ECA697"}, {"s": "ECA698"}]}, "mark": {"type": "rule", "color": "#ebebeb", "strokeWidth": 1}, "encoding": {"x": {"field": "s", "type": "nominal", "scale": {"domain": ["ECA1012", "ECA1013", "ECA697", "ECA698"], "paddingInner": 0.226, "paddingOuter": 0.19}, "axis": null}}},
   {"data": {"name": "pts"}, "transform": [{"filter": {"field": "s", "oneOf": ["ECA1012", "ECA1013", "ECA697", "ECA698"]}}], "mark": {"type": "point", "filled": true, "size": 8, "color": "black", "opacity": 1},
    "encoding": {"x": {"field": "s", "type": "nominal", "axis": null}, "y": {"field": "v", "type": "quantitative", "axis": null},
     "xOffset": {"field": "r", "type": "ordinal", "scale": {"domain": [0,1,2,3,4,5,6,7,8,9,10,11,12,13,14,15,16,17,18,19]}}}},
   {"data": {"name": "pts"}, "transform": [{"filter": {"field": "s", "oneOf": ["ECA1012", "ECA1013", "ECA697", "ECA698"]}}, {"lookup": "s", "from": {"data": {"name": "strains"}, "key": "s", "fields": ["bg"]}}],
    "mark": {"type": "boxplot", "extent": 1.5, "outliers": false, "size": 24, "box": {"fillOpacity": 0.45, "stroke": "#404040", "strokeWidth": 1}, "median": {"color": "#333333", "thickness": 2.5}, "rule": {"color": "#333333", "strokeWidth": 1}},
    "encoding": {"x": {"field": "s", "type": "nominal", "axis": null}, "y": {"field": "v", "type": "quantitative", "axis": null},
     "color": {"field": "bg", "type": "nominal", "scale": {"domain": ["CB4856", "N2"], "range": ["#0000ff", "#ffa500"]}, "legend": null}}}
  ]},
 {"width": 129, "height": 20, "view": {"fill": "#d9d9d9", "stroke": "#8c8c8c", "strokeWidth": 1},
  "layer": [
   {"data": {"values": [{"s": "ECA1012"}, {"s": "ECA1013"}, {"s": "ECA697"}, {"s": "ECA698"}]}, "mark": {"type": "point", "opacity": 0},
    "encoding": {"x": {"field": "s", "type": "nominal", "scale": {"domain": ["ECA1012", "ECA1013", "ECA697", "ECA698"], "paddingInner": 0.226, "paddingOuter": 0.19}, "axis": {"orient": "bottom", "title": null, "labelAngle": -90, "labelFontSize": 11, "labelColor": "#4d4d4d", "tickColor": "#333333", "tickSize": 4, "domain": false, "grid": false, "labelPadding": 2, "bandPosition": 0.5}}}},
   {"data": {"values": [{"t": "srg-42(del)"}]}, "mark": {"type": "text", "fontSize": 13, "fontStyle": "italic", "color": "#1a1a1a"}, "encoding": {"text": {"field": "t"}}}
  ]},
 {"width": 129, "height": 96,
  "layer": [
   {"data": {"name": "gdel"}, "transform": [{"filter": {"field": "g", "equal": "srg-42"}}], "mark": {"type": "rule", "color": "#d7301f", "strokeWidth": 3},
    "encoding": {"x": {"field": "a", "type": "quantitative", "scale": {"domain": [0, 100], "nice": false, "zero": false}, "axis": null}, "x2": {"field": "b"}, "y": {"field": "y", "type": "quantitative", "scale": {"domain": [0, 22.33], "nice": false, "zero": false}, "axis": null}}},
   {"data": {"name": "gint"}, "transform": [{"filter": {"field": "g", "equal": "srg-42"}}], "mark": {"type": "line", "color": "#333333", "strokeWidth": 1},
    "encoding": {"x": {"field": "x", "type": "quantitative"}, "y": {"field": "y", "type": "quantitative"}, "detail": {"field": "i"}}},
   {"data": {"name": "gex"}, "transform": [{"filter": {"field": "g", "equal": "srg-42"}}], "mark": {"type": "rect", "stroke": "#333333", "strokeWidth": 1},
    "encoding": {"x": {"field": "a", "type": "quantitative"}, "x2": {"field": "b"}, "y": {"field": "lo", "type": "quantitative"}, "y2": {"field": "hi"}, "fill": {"field": "k", "type": "nominal", "scale": {"domain": ["exon", "utr"], "range": ["white", "#a6a6a6"]}, "legend": null}}}
  ]}
]},
{"spacing": 2, "bounds": "flush", "vconcat": [
 {"width": 129, "height": 295, "view": {"stroke": "#1a1a1a", "strokeWidth": 1.6},
  "layer": [
   {"data": {"name": "minor"}, "mark": {"type": "rule", "color": "#f2f2f2", "strokeWidth": 0.6}, "encoding": {"y": {"field": "v", "type": "quantitative", "scale": {"domain": [-62.4, 180.5], "nice": false, "zero": false}, "axis": null}}},
   {"data": {"name": "major"}, "mark": {"type": "rule", "color": "#ebebeb", "strokeWidth": 1}, "encoding": {"y": {"field": "v", "type": "quantitative", "axis": null}}},
   {"data": {"values": [{"s": "ECA687"}, {"s": "ECA696"}, {"s": "ECA692"}, {"s": "ECA693"}]}, "mark": {"type": "rule", "color": "#ebebeb", "strokeWidth": 1}, "encoding": {"x": {"field": "s", "type": "nominal", "scale": {"domain": ["ECA687", "ECA696", "ECA692", "ECA693"], "paddingInner": 0.226, "paddingOuter": 0.19}, "axis": null}}},
   {"data": {"name": "pts"}, "transform": [{"filter": {"field": "s", "oneOf": ["ECA687", "ECA696", "ECA692", "ECA693"]}}], "mark": {"type": "point", "filled": true, "size": 8, "color": "black", "opacity": 1},
    "encoding": {"x": {"field": "s", "type": "nominal", "axis": null}, "y": {"field": "v", "type": "quantitative", "axis": null},
     "xOffset": {"field": "r", "type": "ordinal", "scale": {"domain": [0,1,2,3,4,5,6,7,8,9,10,11,12,13,14,15,16,17,18,19]}}}},
   {"data": {"name": "pts"}, "transform": [{"filter": {"field": "s", "oneOf": ["ECA687", "ECA696", "ECA692", "ECA693"]}}, {"lookup": "s", "from": {"data": {"name": "strains"}, "key": "s", "fields": ["bg"]}}],
    "mark": {"type": "boxplot", "extent": 1.5, "outliers": false, "size": 24, "box": {"fillOpacity": 0.45, "stroke": "#404040", "strokeWidth": 1}, "median": {"color": "#333333", "thickness": 2.5}, "rule": {"color": "#333333", "strokeWidth": 1}},
    "encoding": {"x": {"field": "s", "type": "nominal", "axis": null}, "y": {"field": "v", "type": "quantitative", "axis": null},
     "color": {"field": "bg", "type": "nominal", "scale": {"domain": ["CB4856", "N2"], "range": ["#0000ff", "#ffa500"]}, "legend": null}}}
  ]},
 {"width": 129, "height": 20, "view": {"fill": "#d9d9d9", "stroke": "#8c8c8c", "strokeWidth": 1},
  "layer": [
   {"data": {"values": [{"s": "ECA687"}, {"s": "ECA696"}, {"s": "ECA692"}, {"s": "ECA693"}]}, "mark": {"type": "point", "opacity": 0},
    "encoding": {"x": {"field": "s", "type": "nominal", "scale": {"domain": ["ECA687", "ECA696", "ECA692", "ECA693"], "paddingInner": 0.226, "paddingOuter": 0.19}, "axis": {"orient": "bottom", "title": null, "labelAngle": -90, "labelFontSize": 11, "labelColor": "#4d4d4d", "tickColor": "#333333", "tickSize": 4, "domain": false, "grid": false, "labelPadding": 2, "bandPosition": 0.5}}}},
   {"data": {"values": [{"t": "cnc-10(del)"}]}, "mark": {"type": "text", "fontSize": 13, "fontStyle": "italic", "color": "#1a1a1a"}, "encoding": {"text": {"field": "t"}}}
  ]},
 {"width": 129, "height": 96,
  "layer": [
   {"data": {"name": "gdel"}, "transform": [{"filter": {"field": "g", "equal": "cnc-10"}}], "mark": {"type": "rule", "color": "#d7301f", "strokeWidth": 3},
    "encoding": {"x": {"field": "a", "type": "quantitative", "scale": {"domain": [0, 100], "nice": false, "zero": false}, "axis": null}, "x2": {"field": "b"}, "y": {"field": "y", "type": "quantitative", "scale": {"domain": [0, 22.33], "nice": false, "zero": false}, "axis": null}}},
   {"data": {"name": "gint"}, "transform": [{"filter": {"field": "g", "equal": "cnc-10"}}], "mark": {"type": "line", "color": "#333333", "strokeWidth": 1},
    "encoding": {"x": {"field": "x", "type": "quantitative"}, "y": {"field": "y", "type": "quantitative"}, "detail": {"field": "i"}}},
   {"data": {"name": "gex"}, "transform": [{"filter": {"field": "g", "equal": "cnc-10"}}], "mark": {"type": "rect", "stroke": "#333333", "strokeWidth": 1},
    "encoding": {"x": {"field": "a", "type": "quantitative"}, "x2": {"field": "b"}, "y": {"field": "lo", "type": "quantitative"}, "y2": {"field": "hi"}, "fill": {"field": "k", "type": "nominal", "scale": {"domain": ["exon", "utr"], "range": ["white", "#a6a6a6"]}, "legend": null}}},
   {"data": {"name": "gtip"}, "transform": [{"filter": {"field": "g", "equal": "cnc-10"}}], "mark": {"type": "area", "stroke": "#333333", "strokeWidth": 1},
    "encoding": {"x": {"field": "x", "type": "quantitative"}, "y": {"field": "lo", "type": "quantitative"}, "y2": {"field": "hi"}, "detail": {"field": "t"}, "fill": {"field": "k", "type": "nominal", "legend": null}}}
  ]}
]}
]
}
]
}
